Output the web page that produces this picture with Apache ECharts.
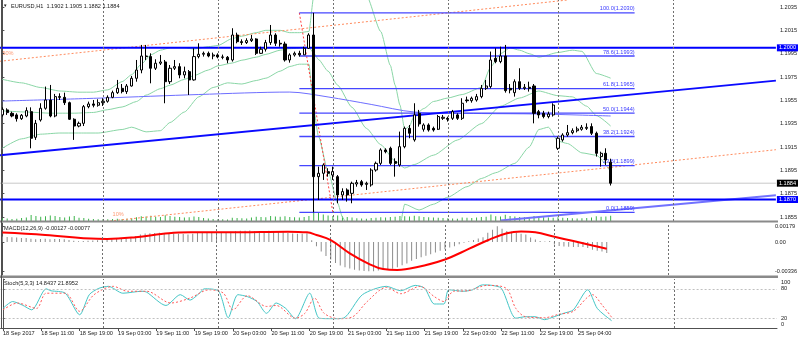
<!DOCTYPE html>
<html><head><meta charset="utf-8">
<script src="https://cdn.jsdelivr.net/npm/echarts@6/dist/echarts.min.js"></script>
<style>html,body{margin:0;padding:0;background:#fff}#c{width:800px;height:340px}</style>
</head><body><div id="c"></div>
<script>
// ---------------- DATA ----------------
const symbolName = 'EURUSD,H1';
const tickLabels = ['18 Sep 2017','18 Sep 11:00','18 Sep 19:00','19 Sep 03:00','19 Sep 11:00','19 Sep 19:00','20 Sep 03:00','20 Sep 11:00','20 Sep 19:00','21 Sep 03:00','21 Sep 11:00','21 Sep 19:00','22 Sep 03:00','22 Sep 11:00','22 Sep 19:00','25 Sep 04:00'];
const tickEvery = 8;
const slotCount = 162;
const daySeparators = [21,45,69,93,116,140];
const priceTicks = [1.1855,1.1875,1.1895,1.1915,1.1935,1.1955,1.1975,1.1995,1.2015,1.2035];
const macdTicks = [-0.00336,0,0.00179];
const stochTicks = [0,20,80,100];
// [open, close, low, high]
const candles = [
[1.19425,1.19473,1.19411,1.19490],[1.19468,1.19445,1.19425,1.19482],[1.19439,1.19416,1.19405,1.19453],[1.19425,1.19393,1.19368,1.19439],[1.19393,1.19422,1.19382,1.19433],
[1.19416,1.19462,1.19405,1.19490],[1.19453,1.19225,1.19139,1.19490],[1.19233,1.19353,1.19211,1.19382],[1.19382,1.19482,1.19368,1.19525],[1.19482,1.19553,1.19470,1.19668],
[1.19553,1.19416,1.19405,1.19682],[1.19416,1.19582,1.19405,1.19605],[1.19582,1.19576,1.19553,1.19610],[1.19576,1.19530,1.19510,1.19616],[1.19530,1.19388,1.19382,1.19539],
[1.19388,1.19330,1.19211,1.19396],[1.19330,1.19353,1.19319,1.19368],[1.19353,1.19496,1.19330,1.19510],[1.19496,1.19519,1.19482,1.19539],[1.19519,1.19508,1.19490,1.19553],
[1.19508,1.19530,1.19496,1.19559],[1.19530,1.19542,1.19502,1.19568],[1.19542,1.19576,1.19530,1.19593],[1.19576,1.19616,1.19568,1.19633],[1.19616,1.19653,1.19605,1.19725],
[1.19653,1.19625,1.19610,1.19690],[1.19625,1.19673,1.19605,1.19690],[1.19673,1.19739,1.19668,1.19759],[1.19739,1.19810,1.19710,1.19896],[1.19810,1.19930,1.19782,1.20025],
[1.19930,1.19925,1.19896,1.20025],[1.19925,1.19825,1.19696,1.19953],[1.19825,1.19868,1.19810,1.19902],[1.19868,1.19879,1.19853,1.19939],[1.19879,1.19710,1.19525,1.19896],
[1.19710,1.19825,1.19690,1.19853],[1.19825,1.19839,1.19810,1.19896],[1.19839,1.19768,1.19739,1.19868],[1.19768,1.19796,1.19739,1.19839],[1.19796,1.19725,1.19596,1.19810],
[1.19725,1.19925,1.19719,1.19996],[1.19925,1.19945,1.19910,1.20039],[1.19945,1.19953,1.19925,1.19968],[1.19953,1.19930,1.19919,1.19968],[1.19930,1.19939,1.19902,1.19959],
[1.19939,1.19922,1.19910,1.19953],[1.19922,1.19919,1.19902,1.19942],[1.19919,1.19896,1.19868,1.19930],[1.19896,1.20110,1.19882,1.20168],[1.20110,1.20053,1.20039,1.20130],
[1.20053,1.20045,1.20025,1.20073],[1.20045,1.20062,1.20033,1.20082],[1.20062,1.20076,1.20050,1.20110],[1.20076,1.19953,1.19939,1.20082],[1.19953,1.19988,1.19948,1.20010],
[1.19988,1.20045,1.19968,1.20068],[1.20045,1.20110,1.20025,1.20196],[1.20110,1.20039,1.20016,1.20125],[1.20039,1.20033,1.20010,1.20068],[1.20033,1.19896,1.19882,1.20053],
[1.19896,1.19939,1.19873,1.19953],[1.19939,1.19953,1.19925,1.19968],[1.19953,1.19940,1.19925,1.19975],[1.19940,1.19996,1.19939,1.20010],[1.19996,1.20110,1.19990,1.20125],
[1.20110,1.18896,1.18590,1.20300],[1.18896,1.18925,1.18696,1.18982],[1.18925,1.18996,1.18868,1.19010],[1.18939,1.18925,1.18896,1.18968],[1.18910,1.18939,1.18868,1.18982],
[1.18896,1.18739,1.18668,1.18910],[1.18739,1.18768,1.18696,1.18796],[1.18782,1.18739,1.18682,1.18796],[1.18753,1.18839,1.18668,1.18853],[1.18833,1.18845,1.18810,1.18868],
[1.18853,1.18825,1.18810,1.18868],[1.18830,1.18839,1.18782,1.18853],[1.18825,1.18953,1.18810,1.18968],[1.18953,1.19010,1.18939,1.19025],[1.19010,1.19125,1.18996,1.19139],
[1.19125,1.19110,1.19096,1.19139],[1.19139,1.19010,1.18996,1.19153],[1.19025,1.19010,1.18896,1.19053],[1.18996,1.19153,1.18982,1.19282],[1.19153,1.19310,1.19139,1.19325],
[1.19310,1.19268,1.19225,1.19339],[1.19211,1.19425,1.19196,1.19525],[1.19439,1.19348,1.19325,1.19468],[1.19302,1.19339,1.19282,1.19353],[1.19339,1.19296,1.19282,1.19353],
[1.19310,1.19296,1.19282,1.19325],[1.19302,1.19411,1.19296,1.19425],[1.19396,1.19405,1.19382,1.19425],[1.19396,1.19388,1.19368,1.19410],[1.19396,1.19453,1.19382,1.19468],
[1.19425,1.19396,1.19382,1.19439],[1.19396,1.19525,1.19382,1.19568],[1.19553,1.19547,1.19530,1.19582],[1.19547,1.19568,1.19530,1.19582],[1.19553,1.19582,1.19539,1.19605],
[1.19582,1.19653,1.19568,1.19682],[1.19653,1.19673,1.19639,1.19725],[1.19668,1.19896,1.19653,1.19968],[1.19910,1.19882,1.19868,1.19996],[1.19882,1.19930,1.19868,1.20010],
[1.19930,1.19633,1.19616,1.20025],[1.19653,1.19639,1.19610,1.19690],[1.19616,1.19710,1.19582,1.19730],[1.19710,1.19653,1.19639,1.19825],[1.19653,1.19662,1.19639,1.19690],
[1.19662,1.19653,1.19625,1.19710],[1.19673,1.19439,1.19353,1.19690],[1.19453,1.19425,1.19396,1.19468],[1.19439,1.19411,1.19396,1.19460],[1.19411,1.19433,1.19396,1.19453],
[1.19425,1.19510,1.19411,1.19525],[1.19139,1.19225,1.19125,1.19239],[1.19211,1.19253,1.19196,1.19268],[1.19253,1.19273,1.19239,1.19339],[1.19273,1.19290,1.19259,1.19310],
[1.19290,1.19305,1.19275,1.19325],[1.19302,1.19319,1.19290,1.19339],[1.19310,1.19319,1.19296,1.19353],[1.19325,1.19268,1.19253,1.19353],[1.19268,1.19096,1.19068,1.19282],
[1.19068,1.19096,1.18982,1.19110],[1.19096,1.19039,1.18996,1.19139],[1.1902,1.1884,1.1882,1.1905]
];
const volumes = [
1200,1100,900,1000,1300,1500,2600,2200,1800,2000,
2400,2100,1700,1500,1900,2200,1400,1300,1000,900,
800,700,800,900,1000,900,1000,1200,1600,2000,
1900,2300,1800,1700,2500,2100,1800,1700,1500,1600,
1900,1700,1300,1100,900,800,700,600,1400,1300,
1200,1100,1500,1800,1700,1600,2200,1900,1800,2000,
1700,1600,1500,1700,2200,4500,3600,2800,2400,2200,
2400,2000,1700,1500,1200,1100,1000,1300,1400,1600,
1500,1700,1800,2100,2000,1900,2300,2000,1700,1600,
1500,1400,1300,1200,1100,1000,1500,1400,1300,1500,
1700,1800,2800,2000,1900,2700,2100,1900,1700,1600,
1500,2200,1800,1600,1500,1400,1600,1400,1300,1200,
1100,1200,1300,1500,2000,1800,1900,2300
];
// Bollinger bands (sampled points: [bar, price])
const bbUpper = [[0,1.1973],[4,1.1970],[8,1.1966],[12,1.1963],[16,1.1962],[19,1.1962],[22,1.1964],[25,1.1971],[27,1.1977],[29,1.1986],[31,1.1994],[33,1.1998],[35,1.2000],[38,1.2000],[40,1.1999],[43,1.2001],[45,1.2002],[48,1.2008],[50,1.2010],[53,1.2013],[55,1.2015],[58,1.2015],[60,1.2013],[62,1.2013],[64,1.2014],[65,1.2044],[66,1.2056],[68,1.2065],[70,1.2069],[73,1.2064],[76,1.2045],[79,1.2014],[81,1.1985],[82,1.1968],[83,1.1951],[84,1.1930],[85,1.1933],[86,1.1942],[88,1.1948],[90,1.1954],[93,1.1957],[96,1.1960],[100,1.1966],[102,1.1984],[104,1.1995],[106,1.2000],[108,1.1998],[110,1.1995],[112,1.1992],[116,1.1996],[119,1.1998],[121,1.1997],[124,1.1978],[127,1.1974]];
const bbMiddle = [[0,1.1946],[5,1.1945],[10,1.1944],[15,1.1944],[19,1.19446],[22,1.1947],[25,1.19493],[28,1.1954],[30,1.19595],[33,1.1965],[35,1.1968],[38,1.1973],[40,1.19762],[43,1.1981],[45,1.19846],[48,1.1987],[50,1.19894],[53,1.1992],[55,1.19944],[58,1.1998],[60,1.19993],[64,1.20004],[65,1.19955],[66,1.1990],[68,1.1980],[70,1.1968],[73,1.1949],[76,1.1931],[79,1.1917],[82,1.1903],[84,1.1897],[86,1.1900],[90,1.1908],[95,1.1921],[100,1.1935],[104,1.1950],[108,1.1957],[112,1.1963],[116,1.1959],[119,1.1958],[122,1.1950],[124,1.1942],[127,1.1933]];
const bbLower = [[0,1.1914],[4,1.1922],[8,1.1926],[12,1.1927],[17,1.1927],[20,1.1927],[25,1.1930],[27,1.1932],[30,1.1928],[33,1.1929],[35,1.1936],[38,1.1945],[41,1.1958],[44,1.1966],[47,1.1970],[50,1.1969],[53,1.1972],[55,1.1974],[58,1.1980],[60,1.1984],[62,1.1986],[64,1.1986],[65,1.1947],[66,1.1924],[68,1.1894],[70,1.1867],[71,1.1855],[73,1.1835],[76,1.1818],[79,1.1820],[82,1.1838],[83,1.1848],[84,1.1866],[87,1.1861],[90,1.1866],[93,1.1872],[97,1.1881],[100,1.1888],[103,1.1893],[107,1.1901],[110,1.1915],[112,1.1930],[114,1.1932],[116,1.1920],[118,1.1918],[121,1.1910],[124,1.1908],[127,1.1894]];
const maLine = [[0,1.19544],[21,1.19570],[41,1.19600],[60,1.19621],[68,1.19579],[77,1.19515],[86,1.19450],[100,1.19437],[112,1.19433],[127,1.19416]];
// drawn objects (bar, price)
const trendUp = [[-0.5,1.19079],[161.5,1.19719]];
const trendLow = [[104,1.18520],[161.5,1.18737]];
const chanUpper = [[-0.5,1.19885],[118,1.20410]];
const chanLower = [[20,1.18505],[161.5,1.19127]];
const fibDiag = [[62,1.2030],[69,1.1859]];
const fibStart = 62, fibEnd = 132;
const fibLevels = [100.0,78.6,61.8,50.0,38.2,23.6,0.0];
const fibPrices = [1.2030,1.1993,1.1965,1.1944,1.1924,1.1899,1.1859];
const hLevels = [1.2000,1.1870];
const bidPrice = 1.1884;
const chanLabels = [{x:0,y:1.19956,t:'50%'},{x:23,y:1.18576,t:'10%'}];
// MACD(12,26,9)
const macdMain = [
0.00062,0.00058,0.00054,0.00050,0.00046,0.00045,0.00036,0.00032,0.00033,0.00036,
0.00031,0.00033,0.00034,0.00031,0.00022,0.00013,0.00008,0.00012,0.00015,0.00017,
0.00019,0.00022,0.00026,0.00031,0.00036,0.00038,0.00043,0.00052,0.00065,0.00084,
0.00097,0.00099,0.00103,0.00105,0.00094,0.00096,0.00098,0.00093,0.00092,0.00085,
0.00095,0.00103,0.00108,0.00110,0.00110,0.00109,0.00107,0.00103,0.00118,0.00124,
0.00127,0.00129,0.00130,0.00122,0.00118,0.00120,0.00128,0.00126,0.00122,0.00110,
0.00103,0.00098,0.00094,0.00093,0.00100,0.00020,-0.00050,-0.00110,-0.00160,-0.00200,
-0.00240,-0.00268,-0.00290,-0.00305,-0.00318,-0.00326,-0.00332,-0.00336,-0.00334,-0.00326,
-0.00318,-0.00312,-0.00306,-0.00288,-0.00266,-0.00245,-0.00215,-0.00195,-0.00175,-0.00158,
-0.00142,-0.00120,-0.00100,-0.00082,-0.00062,-0.00048,-0.00025,-0.00008,0.00008,0.00022,
0.00040,0.00055,0.00105,0.00140,0.00179,0.00150,0.00125,0.00118,0.00105,0.00095,
0.00085,0.00050,0.00028,0.00012,0.00004,0.00010,-0.00030,-0.00045,-0.00052,-0.00056,
-0.00058,-0.00058,-0.00058,-0.00068,-0.00090,-0.00100,-0.00110,-0.00127];
const macdSignal = [[0,0.00107],[9,0.00080],[20,0.00036],[22,0.00035],[28,0.00055],[35,0.00100],[40,0.00110],[50,0.00112],[60,0.00118],[64,0.00110],[66,0.00080],[69,0.00020],[73,-0.0013],[77,-0.0025],[80,-0.0031],[83,-0.0032],[87,-0.0029],[93,-0.0020],[98,-0.0008],[102,0.0002],[106,0.0010],[109,0.0012],[112,0.0011],[116,0.0006],[120,0.0001],[124,-0.0004],[127,-0.00077]];
// Stochastic(5,3,3)
const stochMain = [[0,40],[2,54],[4,47],[6,37],[9,80],[10,76],[13,71],[16,27],[18,68],[20,81],[22,85],[25,71],[29,75],[30,73],[34,46],[37,68],[39,57],[41,71],[42,80],[45,75],[47,21],[49,68],[51,64],[53,54],[55,30],[57,51],[59,40],[61,19],[64,71],[66,20],[69,19],[71,20],[75,68],[80,85],[83,76],[86,87],[88,81],[90,49],[92,49],[93,78],[96,75],[98,78],[100,88],[102,87],[104,81],[107,20],[109,23],[111,23],[113,17],[115,23],[117,30],[119,37],[122,78],[124,40],[127,14.8437]];
const stochSignal = [[0,37],[3,51],[7,40],[9,71],[13,71],[16,34],[19,68],[23,85],[26,75],[30,75],[35,51],[39,61],[43,78],[46,71],[48,37],[51,66],[55,44],[57,46],[61,20],[63,30],[65,61],[67,30],[70,19],[73,23],[76,54],[80,83],[83,70],[87,85],[90,64],[92,54],[94,75],[97,76],[101,87],[105,81],[107,40],[109,23],[113,21],[116,28],[119,34],[123,68],[125,47],[127,21.8952]];

// ---------------- CHART ----------------
const FONT = 'Liberation Sans';
const FS = 5.6;
const TXT = '#1a1a1a';
const cats = Array.from({length: slotCount}, (_, i) => String(i));
const last = candles[candles.length - 1];
const lastMacd = macdMain[macdMain.length - 1];
const lastSig = macdSignal[macdSignal.length - 1][1];
const lastK = stochMain[stochMain.length - 1][1];
const lastD = stochSignal[stochSignal.length - 1][1];
const VMIN = -0.5, VMAX = slotCount - 0.5;
const sepLine = {silent:true, symbol:['none','none'], label:{show:false}, animation:false,
  lineStyle:{color:'#707070', type:[2,2], width:1}, data: daySeparators.map(v => ({xAxis: v}))};

const chart = echarts.init(document.getElementById('c'), null, {renderer:'canvas'});
const gridL = -1, gridW = 778;
const catAxis = gi => ({type:'category', gridIndex:gi, data:cats, boundaryGap:true,
  axisLine:{show:false}, axisTick:{show:false}, axisLabel:{show:false}, splitLine:{show:false}});
const valAxis = gi => ({type:'value', gridIndex:gi, min:VMIN, max:VMAX, show:false});
const showTick = i => i % tickEvery === 0 && i / tickEvery < tickLabels.length;

const xAxes = [catAxis(0), valAxis(0), catAxis(1), valAxis(1),
  {type:'category', gridIndex:2, data:cats, boundaryGap:true,
   axisLine:{show:true, lineStyle:{color:'#505050', width:1}},
   axisTick:{show:true, alignWithLabel:true, length:3, lineStyle:{color:'#505050'}, interval:showTick},
   axisLabel:{show:true, interval:showTick,
     formatter:(v, i) => showTick(i) ? tickLabels[i / tickEvery] : '',
     align:'left', margin:2, fontSize:FS, fontFamily:FONT, color:TXT},
   splitLine:{show:false}},
  valAxis(2)];

const yCommon = {position:'right', splitLine:{show:false},
  axisLine:{show:true, lineStyle:{color:'#505050', width:1}}};
const yAxes = [
  Object.assign({type:'value', gridIndex:0, min:1.18516, max:1.20410,
    axisTick:{show:true, length:2, customValues:priceTicks, lineStyle:{color:'#505050'}},
    axisLabel:{show:true, customValues:priceTicks, formatter:v => v.toFixed(4), margin:4, fontSize:FS, fontFamily:FONT, color:TXT}}, yCommon),
  {type:'value', gridIndex:0, min:0, max:95000, show:false},
  Object.assign({type:'value', gridIndex:1, min:-0.00378, max:0.00217,
    axisTick:{show:true, length:2, customValues:macdTicks, lineStyle:{color:'#505050'}},
    axisLabel:{show:true, customValues:macdTicks, formatter:v => v === 0 ? '0.00' : v.toFixed(5), margin:4, fontSize:FS, fontFamily:FONT, color:TXT}}, yCommon),
  Object.assign({type:'value', gridIndex:2, min:0, max:100,
    axisTick:{show:true, length:2, customValues:stochTicks, lineStyle:{color:'#505050'}},
    axisLabel:{show:true, customValues:stochTicks,
      formatter:v => v === 100 ? '{t|100}' : (v === 0 ? '{b|0}' : String(v)),
      rich:{t:{fontSize:FS, fontFamily:FONT, color:TXT, padding:[6,0,0,0]}, b:{fontSize:FS, fontFamily:FONT, color:TXT, padding:[0,0,8,0]}},
      margin:4, fontSize:FS, fontFamily:FONT, color:TXT}}, yCommon)
];

const lineS = (data, color, width, type, extra) => Object.assign({type:'line', xAxisIndex:1, yAxisIndex:0, data,
  symbol:'none', silent:true, animation:false, lineStyle:{color, width, type: type || 'solid'}}, extra || {});

const fibSeries = fibPrices.map((p, k) => lineS([[fibStart, p], [fibEnd, p]], '#4646ff', 1.3, 'solid', {
  endLabel:{show:true, formatter: fibLevels[k].toFixed(1) + '(' + p.toFixed(4) + ')', distance:0,
    align:'right', verticalAlign:'bottom', offset:[0,-1], fontSize:FS, fontFamily:FONT, color:'#3a3aff'}}));

const levelSeries = hLevels.map(p => lineS([[VMIN, p], [VMAX, p]], '#0000ff', 2, 'solid', {z:4,
  endLabel:{show:true, formatter: p.toFixed(4), distance:1, backgroundColor:'#0000ff', color:'#ffffff',
    padding:[1,2,0,2], fontSize:FS, fontFamily:FONT}}));

const bbStyle = {smooth:0.2, smoothMonotone:'x'};

const series = [
  {type:'bar', xAxisIndex:0, yAxisIndex:1, data:volumes, barWidth:1, silent:true, animation:false,
   itemStyle:{color:'#3cb44b'}},
  lineS([[VMIN, bidPrice], [VMAX, bidPrice]], '#c8c8c8', 1, 'solid', {z:1,
    endLabel:{show:true, formatter: bidPrice.toFixed(4), distance:1, backgroundColor:'#000000', color:'#ffffff',
      padding:[1,2,0,2], fontSize:FS, fontFamily:FONT}}),
  lineS(bbUpper, '#8ad6a6', 1, 'solid', bbStyle),
  lineS(bbMiddle, '#8ad6a6', 1, 'solid', Object.assign({markLine: sepLine}, bbStyle)),
  lineS(bbLower, '#8ad6a6', 1, 'solid', bbStyle),
  lineS(maLine, '#6e6eff', 1, 'solid', {smooth:0.3}),
  lineS(chanUpper, '#ff8a5c', 1, [2,2]),
  lineS(chanLower, '#ff8a5c', 1, [2,2]),
  lineS(fibDiag, '#ff4040', 1, [2,2]),
  ...fibSeries,
  lineS(trendUp, '#0a0aff', 2),
  lineS(trendLow, '#7272ff', 2),
  ...levelSeries,
  {type:'scatter', xAxisIndex:1, yAxisIndex:0, symbolSize:0, silent:true, animation:false,
   data: chanLabels.map(o => ({value:[o.x, o.y], label:{show:true, position:'right', distance:0, formatter:o.t,
      fontSize:FS, fontFamily:FONT, color:'#ff7f50'}}))},
  {type:'candlestick', xAxisIndex:0, yAxisIndex:0, data:candles, barWidth:2.6, silent:true, animation:false, z:5,
   itemStyle:{color:'#ffffff', color0:'#000000', borderColor:'#000000', borderColor0:'#000000', borderWidth:1}},
  {type:'bar', xAxisIndex:2, yAxisIndex:2, data:macdMain, barWidth:1, silent:true, animation:false,
   itemStyle:{color:'#8c8c8c'}},
  {type:'line', xAxisIndex:3, yAxisIndex:2, data:macdSignal, symbol:'none', smooth:0.4, silent:true, animation:false,
   lineStyle:{color:'#ff0000', width:2}, markLine: sepLine},
  {type:'line', xAxisIndex:5, yAxisIndex:3, data:stochMain, symbol:'none', smooth:0.25, silent:true, animation:false,
   lineStyle:{color:'#44c6c6', width:1}, markLine: Object.assign({}, sepLine, {data: sepLine.data.concat([
     {yAxis:20, lineStyle:{color:'#c0c0c0', type:[2,2], width:1}}, {yAxis:80, lineStyle:{color:'#c0c0c0', type:[2,2], width:1}}])})},
  {type:'line', xAxisIndex:5, yAxisIndex:3, data:stochSignal, symbol:'none', smooth:0.3, silent:true, animation:false,
   lineStyle:{color:'#ff5a5a', width:1, type:[2,2]}}
];

const txt = (x, y, t, extra) => Object.assign({type:'text', left:x, top:y, silent:true, z:100,
  style:{text:t, fontSize:FS, fontFamily:FONT, fill:TXT}}, extra || {});

chart.setOption({
  animation:false,
  backgroundColor:'#ffffff',
  grid:[
    {left:gridL, top:0, width:gridW, height:221},
    {left:gridL, top:223, width:gridW, height:52},
    {left:gridL, top:279, width:gridW, height:49}
  ],
  xAxis:xAxes, yAxis:yAxes, series,
  graphic:[
    {type:'rect', shape:{x:0, y:220.5, width:778, height:2}, style:{fill:'#8a8a8a'}, silent:true, z:50},
    {type:'rect', shape:{x:0, y:275.5, width:778, height:2.5}, style:{fill:'#8a8a8a'}, silent:true, z:50},
    {type:'line', shape:{x1:1.5, y1:0, x2:1.5, y2:328}, style:{stroke:'#505050', lineWidth:1}, silent:true, z:50},
    txt(3, 3, '\u25BC', {style:{text:'\u25BC', fontSize:4.5, fontFamily:FONT, fill:TXT}}),
    txt(11, 3, symbolName + '  ' + last[0].toFixed(4) + ' ' + last[3].toFixed(4) + ' ' + last[2].toFixed(4) + ' ' + last[1].toFixed(4)),
    txt(4, 225, 'MACD(12,26,9) ' + lastMacd.toFixed(5) + ' ' + lastSig.toFixed(5)),
    txt(4, 280, 'Stoch(5,3,3) ' + lastK.toFixed(4) + ' ' + lastD.toFixed(4))
  ]
});
</script>
</body></html>
